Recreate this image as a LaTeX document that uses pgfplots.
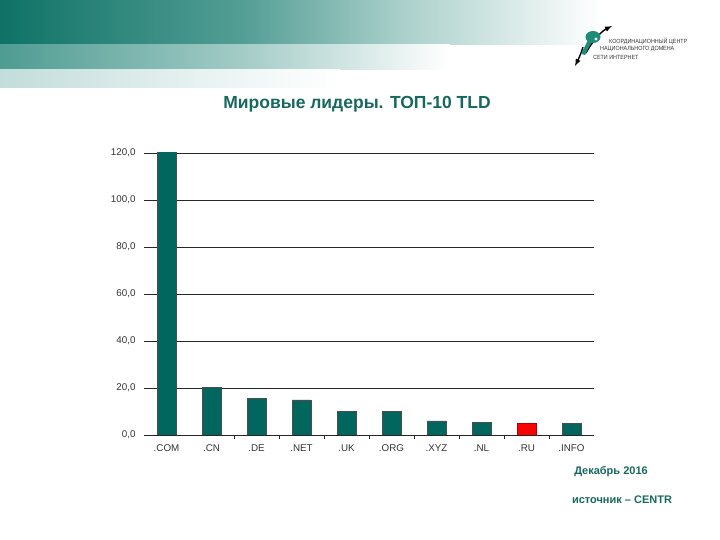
\documentclass[border=0pt]{standalone}
\usepackage{pgfplots}
\pgfplotsset{compat=1.18}
\usepackage{fontspec}
\setmainfont{Liberation Sans}
\definecolor{barteal}{HTML}{00665E}
\definecolor{titleteal}{HTML}{17695F}
\definecolor{b1a}{HTML}{0F7266}
\definecolor{b1b}{HTML}{529D94}
\definecolor{b1c}{HTML}{A9CFCA}
\definecolor{b2a}{HTML}{4E9C92}
\definecolor{b2b}{HTML}{A2CBC6}
\definecolor{b3a}{HTML}{C2DDDB}
\definecolor{b3b}{HTML}{EEF6F5}
\definecolor{logoteal}{HTML}{1E8C78}
\begin{document}
\begin{tikzpicture}[x=1pt,y=1pt]
\useasboundingbox (0,0) rectangle (720,540);
\fill[white] (0,0) rectangle (720,540);
% header bands (image y measured from top: Y -> 540-Y)
\shade[left color=b1a,right color=b1b] (0,495) rectangle (240,540);
\shade[left color=b1b,right color=b1c] (239.5,495) rectangle (400,540);
\shade[left color=b1c,right color=white] (399.5,495) rectangle (600,540);
\shade[left color=b2a,right color=b2b] (0,470) rectangle (240,495);
\shade[left color=b2b,right color=white] (239.5,470) rectangle (450,495);
\shade[left color=b3a,right color=b3b] (0,452) rectangle (240,470);
\shade[left color=b3b,right color=white] (239.5,452) rectangle (340,470);
% logo
\draw[black,line width=1.4pt,-latex] (586,487) .. controls (590,495) and (600,508) .. (612,514);
\draw[black,line width=1.4pt,-latex] (583,493) .. controls (581,486) and (578,480) .. (575,474);
\fill[logoteal] (593,503) ellipse (7.5 and 6);
\fill[logoteal] (588,500) -- (581,486) -- (585,485) -- (592,499) -- cycle;
\fill[white] (596,501) circle (1.6);
\begin{scope}[every node/.style={anchor=west,font=\fontsize{6}{7}\selectfont,text=black!80,inner sep=0,xscale=0.9}]
\node at (609,499) {КООРДИНАЦИОННЫЙ ЦЕНТР};
\node at (600,491) {НАЦИОНАЛЬНОГО ДОМЕНА};
\node at (593,482.5) {СЕТИ ИНТЕРНЕТ};
\end{scope}
% title
\node[font=\bfseries\fontsize{17.5}{20}\selectfont,text=titleteal] at (357,436) {Мировые лидеры. ТОП-10 TLD};
\begin{axis}[
  at={(144pt,105pt)}, anchor=south west,
  scale only axis, width=450pt, height=282pt,
  xmin=-0.5, xmax=9.5, ymin=0, ymax=120,
  axis x line=bottom, axis y line=left,
  x axis line style={-, line width=0.8pt, black!85},
  y axis line style={draw=none},
  ytick={0,20,...,120},
  ymajorgrids, grid style={black!85, line width=0.8pt},
  major tick length=0pt,
  xtick={0,...,9},
  xticklabels={.COM,.CN,.DE,.NET,.UK,.ORG,.XYZ,.NL,.RU,.INFO},
  extra x ticks={1.5,2.5,...,8.5},
  extra x tick labels={},
  extra x tick style={major tick length=4pt, tick style={black!85, line width=0.7pt}, tick align=outside, xmajorgrids=false},
  /pgf/number format/assume math mode=true,
  yticklabel={\pgfmathprintnumber[fixed,fixed zerofill,precision=1,use comma]{\tick}},
  ticklabel style={font=\fontsize{9.8}{11}\selectfont, text=black!80},
  xticklabel style={yshift=-6pt},
  yticklabel style={xshift=-5pt},
  clip=true,
  ybar, bar width=19pt, bar shift=0pt,
]
\addplot[fill=barteal, draw=black!70, line width=0.3pt] coordinates {
 (0,126) (1,20.3) (2,15.6) (3,14.9) (4,10.2) (5,10.2) (6,6.0) (7,5.4) (9,5.0)};
\addplot[fill=red, draw=red!70!black, line width=0.3pt] coordinates {(8,5.1)};
\end{axis}
\node[font=\bfseries\fontsize{11}{13}\selectfont,text=titleteal] at (611,68) {Декабрь 2016};
\node[font=\bfseries\fontsize{11}{13}\selectfont,text=titleteal] at (622,40) {источник – CENTR};
\end{tikzpicture}
\end{document}
